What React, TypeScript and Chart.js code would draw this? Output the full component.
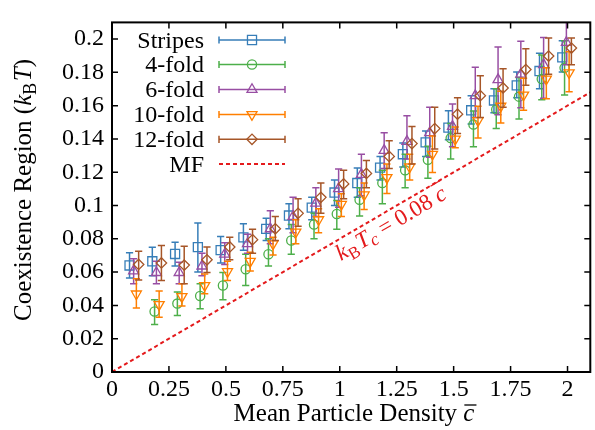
import React, { useEffect, useRef } from 'react';
import { Chart, registerables } from 'chart.js';
import { drawPoint } from 'chart.js/helpers';

Chart.register(...registerables);

// ---------- data ----------
const stripesX = [0.077, 0.177, 0.277, 0.377, 0.477, 0.577, 0.677, 0.777, 0.877, 0.977, 1.077, 1.177, 1.277, 1.377, 1.477, 1.577, 1.677, 1.777, 1.877, 1.977];
const stripesY = [0.064, 0.0665, 0.0709, 0.075, 0.0732, 0.0809, 0.086, 0.094, 0.0987, 0.1078, 0.1135, 0.1228, 0.1308, 0.1379, 0.1468, 0.1572, 0.1631, 0.1722, 0.1808, 0.189];
const stripesLo = [0.0565, 0.0578, 0.0636, 0.06, 0.0655, 0.0732, 0.079, 0.086, 0.0915, 0.1, 0.105, 0.1154, 0.1232, 0.1295, 0.1395, 0.149, 0.1558, 0.1648, 0.1702, 0.1802];
const stripesHi = [0.0716, 0.075, 0.078, 0.0895, 0.0814, 0.0891, 0.0924, 0.101, 0.105, 0.1154, 0.1225, 0.1295, 0.1375, 0.1447, 0.157, 0.166, 0.1702, 0.1802, 0.1914, 0.199];

const fold4X = [0.187, 0.287, 0.387, 0.487, 0.587, 0.687, 0.787, 0.887, 0.987, 1.087, 1.187, 1.287, 1.387, 1.487, 1.587, 1.687, 1.787, 1.887, 1.987];
const fold4Y = [0.0363, 0.0411, 0.0457, 0.052, 0.0617, 0.0707, 0.079, 0.0886, 0.0949, 0.1034, 0.1135, 0.1212, 0.1275, 0.1405, 0.1487, 0.1577, 0.1654, 0.176, 0.1827];
const fold4Lo = [0.0286, 0.034, 0.038, 0.0434, 0.052, 0.0636, 0.0707, 0.08, 0.0857, 0.0937, 0.101, 0.1107, 0.1164, 0.128, 0.1353, 0.1462, 0.152, 0.1635, 0.1664];
const fold4Hi = [0.0434, 0.048, 0.053, 0.0597, 0.0707, 0.08, 0.0886, 0.0953, 0.103, 0.1107, 0.1212, 0.1308, 0.1356, 0.1493, 0.1568, 0.1702, 0.1769, 0.1904, 0.199];

const fold6X = [0.095, 0.195, 0.295, 0.395, 0.495, 0.595, 0.695, 0.795, 0.895, 0.995, 1.095, 1.195, 1.295, 1.395, 1.495, 1.595, 1.695, 1.795, 1.895, 1.995];
const fold6Y = [0.0607, 0.0597, 0.0597, 0.0636, 0.0707, 0.077, 0.086, 0.0934, 0.1014, 0.1101, 0.1187, 0.1331, 0.1385, 0.1437, 0.1475, 0.166, 0.1756, 0.1789, 0.1846, 0.198];
const fold6Lo = [0.053, 0.053, 0.053, 0.0578, 0.0645, 0.0713, 0.077, 0.0837, 0.0934, 0.099, 0.1059, 0.1222, 0.128, 0.129, 0.1353, 0.1529, 0.1545, 0.1587, 0.1644, 0.1846];
const fold6Hi = [0.068, 0.0665, 0.066, 0.0713, 0.0776, 0.0828, 0.0968, 0.105, 0.1107, 0.122, 0.1308, 0.1437, 0.1539, 0.159, 0.161, 0.1831, 0.1952, 0.1987, 0.201, 0.215];

const fold10X = [0.107, 0.207, 0.307, 0.407, 0.507, 0.607, 0.707, 0.807, 0.907, 1.007, 1.107, 1.207, 1.307, 1.407, 1.507, 1.607, 1.707, 1.807, 1.907, 2.007];
const fold10Y = [0.0469, 0.0405, 0.0453, 0.052, 0.0603, 0.0665, 0.077, 0.0841, 0.0915, 0.1007, 0.1064, 0.1168, 0.1232, 0.1308, 0.1399, 0.151, 0.1597, 0.1664, 0.176, 0.1798];
const fold10Lo = [0.0384, 0.0329, 0.0396, 0.047, 0.055, 0.0607, 0.0703, 0.077, 0.0837, 0.0934, 0.0976, 0.1072, 0.1154, 0.1199, 0.1347, 0.1405, 0.1495, 0.1572, 0.1641, 0.1683];
const fold10Hi = [0.056, 0.0486, 0.053, 0.0588, 0.0665, 0.0719, 0.0809, 0.0915, 0.098, 0.107, 0.1135, 0.125, 0.1308, 0.1418, 0.1471, 0.1597, 0.1687, 0.1764, 0.1827, 0.1923];

const fold12X = [0.117, 0.217, 0.317, 0.417, 0.517, 0.617, 0.717, 0.817, 0.917, 1.017, 1.117, 1.217, 1.317, 1.417, 1.517, 1.617, 1.717, 1.817, 1.917, 2.017];
const fold12Y = [0.0646, 0.0655, 0.0642, 0.0674, 0.0751, 0.0795, 0.086, 0.0953, 0.1049, 0.113, 0.1193, 0.1295, 0.1372, 0.1462, 0.1549, 0.166, 0.1706, 0.1817, 0.1898, 0.1946];
const fold12Lo = [0.0553, 0.055, 0.053, 0.0597, 0.0674, 0.0713, 0.079, 0.0876, 0.0953, 0.104, 0.1107, 0.1222, 0.125, 0.134, 0.1433, 0.1529, 0.1591, 0.1722, 0.1789, 0.1846];
const fold12Hi = [0.0726, 0.076, 0.0755, 0.0751, 0.0809, 0.0857, 0.0934, 0.104, 0.1135, 0.1212, 0.127, 0.1389, 0.1475, 0.159, 0.1648, 0.1779, 0.1821, 0.1942, 0.2006, 0.2006];

// mean-field line k_B T_c = 0.08 c
const mfX = [0, 2.1];
const mfY = [0, 0.168];

const xTicks = [0, 0.25, 0.5, 0.75, 1, 1.25, 1.5, 1.75, 2];
const xTickLabels = ['0', '0.25', '0.5', '0.75', '1', '1.25', '1.5', '1.75', '2'];
const yTicks = [0, 0.02, 0.04, 0.06, 0.08, 0.1, 0.12, 0.14, 0.16, 0.18, 0.2];
const yTickLabels = ['0', '0.02', '0.04', '0.06', '0.08', '0.1', '0.12', '0.14', '0.16', '0.18', '0.2'];

const seriesNames = ['Stripes', '4-fold', '6-fold', '10-fold', '12-fold', 'MF'];

// ---------- styles ----------
const SERIF = '"Liberation Serif", "DejaVu Serif", "Times New Roman", serif';
const COLORS = ['#377eb8', '#4daf4a', '#984ea3', '#ff7f00', '#a65628', '#e41a1c'];
const MARKERS = [
  { pointStyle: 'rect', radius: 6.4, rotation: 0 },
  { pointStyle: 'circle', radius: 4.6, rotation: 0 },
  { pointStyle: 'triangle', radius: 5.8, rotation: 0 },
  { pointStyle: 'triangle', radius: 5.8, rotation: 180 },
  { pointStyle: 'rectRot', radius: 5.2, rotation: 0 },
];

function pts(xs: number[], ys: number[]) {
  return xs.map((x, i) => ({ x, y: ys[i] }));
}

type Run = { text: string; font: string; dy?: number; overline?: number };

function runsWidth(ctx: CanvasRenderingContext2D, runs: Run[]) {
  let w = 0;
  for (const r of runs) {
    ctx.font = r.font;
    w += ctx.measureText(r.text).width;
  }
  return w;
}

function drawRuns(ctx: CanvasRenderingContext2D, runs: Run[], x: number, y: number, angle: number, color: string, center = false) {
  ctx.save();
  ctx.translate(x, y);
  ctx.rotate(angle);
  ctx.fillStyle = color;
  ctx.strokeStyle = color;
  ctx.textBaseline = 'alphabetic';
  ctx.textAlign = 'left';
  let cx = center ? -runsWidth(ctx, runs) / 2 : 0;
  for (const r of runs) {
    ctx.font = r.font;
    const w = ctx.measureText(r.text).width;
    ctx.fillText(r.text, cx, r.dy || 0);
    if (r.overline) {
      ctx.lineWidth = 1.3;
      ctx.beginPath();
      ctx.moveTo(cx + 1, (r.dy || 0) - r.overline);
      ctx.lineTo(cx + w + 2, (r.dy || 0) - r.overline);
      ctx.stroke();
    }
    cx += w;
  }
  ctx.restore();
}

const errorBarPlugin = {
  id: 'errorBars',
  beforeDatasetDraw(chart: any, args: any) {
    const ds = chart.data.datasets[args.index];
    if (!ds.lo) return;
    const { ctx, chartArea } = chart;
    const xs = chart.scales.x;
    const ys = chart.scales.y;
    ctx.save();
    ctx.beginPath();
    ctx.rect(chartArea.left, chartArea.top, chartArea.right - chartArea.left, chartArea.bottom - chartArea.top);
    ctx.clip();
    ctx.strokeStyle = ds.borderColor;
    ctx.lineWidth = 1.5;
    const cap = 3.6;
    ds.data.forEach((p: any, i: number) => {
      const px = xs.getPixelForValue(p.x);
      const pl = ys.getPixelForValue(ds.lo[i]);
      const ph = ys.getPixelForValue(ds.hi[i]);
      ctx.beginPath();
      ctx.moveTo(px, pl);
      ctx.lineTo(px, ph);
      ctx.moveTo(px - cap, pl);
      ctx.lineTo(px + cap, pl);
      ctx.moveTo(px - cap, ph);
      ctx.lineTo(px + cap, ph);
      ctx.stroke();
    });
    ctx.restore();
  },
};

const framePlugin = {
  id: 'frameAndText',
  afterDatasetsDraw(chart: any) {
    const { ctx, chartArea } = chart;
    const xs = chart.scales.x;
    const ys = chart.scales.y;
    const { left, right, top, bottom } = chartArea;
    ctx.save();
    ctx.strokeStyle = '#000';
    // inward ticks
    ctx.lineWidth = 1.5;
    const tl = 6;
    ctx.beginPath();
    for (const v of xTicks) {
      const px = xs.getPixelForValue(v);
      ctx.moveTo(px, bottom);
      ctx.lineTo(px, bottom - tl);
      ctx.moveTo(px, top);
      ctx.lineTo(px, top + tl);
    }
    for (const v of yTicks) {
      const py = ys.getPixelForValue(v);
      ctx.moveTo(left, py);
      ctx.lineTo(left + tl, py);
      ctx.moveTo(right, py);
      ctx.lineTo(right - tl, py);
    }
    ctx.stroke();
    // frame
    ctx.lineWidth = 2;
    ctx.strokeRect(left, top, right - left, bottom - top);
    ctx.restore();

    // legend
    const rowY = [40, 64.5, 89.5, 114.5, 139.3, 164];
    const textRight = 204;
    const lx0 = 219;
    const lx1 = 285;
    const lxm = 252;
    seriesNames.forEach((name, i) => {
      const y = rowY[i];
      ctx.save();
      ctx.font = `24px ${SERIF}`;
      ctx.fillStyle = '#000';
      ctx.textAlign = 'right';
      ctx.textBaseline = 'alphabetic';
      ctx.fillText(name, textRight, y + 7.5);
      const color = COLORS[i];
      ctx.strokeStyle = color;
      if (i === 5) {
        ctx.lineWidth = 2;
        ctx.setLineDash([4, 3]);
        ctx.beginPath();
        ctx.moveTo(lx0, y);
        ctx.lineTo(lx1, y);
        ctx.stroke();
      } else {
        ctx.lineWidth = 1.5;
        ctx.beginPath();
        ctx.moveTo(lx0, y);
        ctx.lineTo(lx1, y);
        ctx.moveTo(lx0, y - 3.6);
        ctx.lineTo(lx0, y + 3.6);
        ctx.moveTo(lx1, y - 3.6);
        ctx.lineTo(lx1, y + 3.6);
        ctx.stroke();
        ctx.fillStyle = 'rgba(0,0,0,0)';
        ctx.lineWidth = 1.3;
        const m = MARKERS[i];
        drawPoint(ctx, { pointStyle: m.pointStyle as any, radius: m.radius, rotation: m.rotation, borderWidth: 1.3 }, lxm, y);
      }
      ctx.restore();
    });

    // x title
    const f25 = `25px ${SERIF}`;
    const f25i = `italic 25px ${SERIF}`;
    drawRuns(ctx, [
      { text: 'Mean Particle Density ', font: f25 },
      { text: 'c', font: f25i, overline: 16 },
    ], 354, 421, 0, '#000', true);

    // y title
    drawRuns(ctx, [
      { text: 'Coexistence Region (', font: f25 },
      { text: 'k', font: f25i },
      { text: 'B', font: `18px ${SERIF}`, dy: 5 },
      { text: ' ', font: `6px ${SERIF}` },
      { text: 'T', font: f25i },
      { text: ')', font: f25 },
    ], 31, 190, -Math.PI / 2, '#000', true);

    // annotation along MF line
    const fa = `23px ${SERIF}`;
    const fai = `italic 23px ${SERIF}`;
    drawRuns(ctx, [
      { text: 'k', font: fai },
      { text: 'B', font: `17px ${SERIF}`, dy: 5 },
      { text: ' ', font: `5px ${SERIF}` },
      { text: 'T', font: fai },
      { text: 'c', font: `italic 18px ${SERIF}`, dy: 4 },
      { text: ' = 0.08 ', font: fa },
      { text: 'c', font: fai, overline: 19 },
    ], 341, 261, (-30.5 * Math.PI) / 180, COLORS[5]);
  },
};

export default function App() {
  const ref = useRef<HTMLCanvasElement | null>(null);

  useEffect(() => {
    if (!ref.current) return;
    const mk = (i: number, xs: number[], ys: number[], lo: number[], hi: number[]) => ({
      label: seriesNames[i],
      data: pts(xs, ys),
      lo,
      hi,
      borderColor: COLORS[i],
      backgroundColor: 'rgba(0,0,0,0)',
      pointStyle: MARKERS[i].pointStyle,
      pointRadius: MARKERS[i].radius,
      pointRotation: MARKERS[i].rotation,
      pointBorderWidth: 1.3,
      pointBackgroundColor: 'rgba(0,0,0,0)',
      pointBorderColor: COLORS[i],
      showLine: false,
      order: 5 - i,
      clip: 8,
    });
    const chart = new Chart(ref.current, {
      type: 'scatter',
      data: {
        datasets: [
          {
            label: 'MF',
            data: pts(mfX, mfY),
            showLine: true,
            borderColor: COLORS[5],
            borderWidth: 2,
            borderDash: [4, 3],
            pointRadius: 0,
            order: 10,
            clip: 0,
          } as any,
          mk(0, stripesX, stripesY, stripesLo, stripesHi),
          mk(1, fold4X, fold4Y, fold4Lo, fold4Hi),
          mk(2, fold6X, fold6Y, fold6Lo, fold6Hi),
          mk(3, fold10X, fold10Y, fold10Lo, fold10Hi),
          mk(4, fold12X, fold12Y, fold12Lo, fold12Hi),
        ] as any,
      },
      options: {
        animation: false,
        responsive: false,
        devicePixelRatio: 1,
        layout: { padding: { left: 0, right: 1.6, top: 9, bottom: 0 } },
        plugins: {
          legend: { display: false },
          tooltip: { enabled: false },
        },
        scales: {
          x: {
            type: 'linear',
            min: 0,
            max: 2.1,
            afterBuildTicks: (s: any) => {
              s.ticks = xTicks.map((v) => ({ value: v }));
            },
            afterFit: (s: any) => {
              s.height = 58;
            },
            ticks: {
              callback: (_v: any, i: number) => xTickLabels[i],
              font: { family: SERIF, size: 24 },
              color: '#000',
              padding: 3,
              maxRotation: 0,
              autoSkip: false,
            },
            grid: { display: false, drawTicks: false },
            border: { display: false },
          },
          y: {
            type: 'linear',
            min: 0,
            max: 0.21,
            afterBuildTicks: (s: any) => {
              s.ticks = yTicks.map((v) => ({ value: v }));
            },
            afterFit: (s: any) => {
              s.width = 112;
            },
            ticks: {
              callback: (_v: any, i: number) => yTickLabels[i],
              font: { family: SERIF, size: 24 },
              color: '#000',
              padding: 8,
              autoSkip: false,
            },
            grid: { display: false, drawTicks: false },
            border: { display: false },
          },
        },
      } as any,
      plugins: [errorBarPlugin, framePlugin],
    });
    return () => chart.destroy();
  }, []);

  return (
    <div style={{ position: 'fixed', left: 0, top: 0, width: 595, height: 430, overflow: 'hidden', background: '#fff' }}>
      <canvas ref={ref} width={598} height={430} style={{ display: 'block', width: 598, height: 430 }} />
    </div>
  );
}
